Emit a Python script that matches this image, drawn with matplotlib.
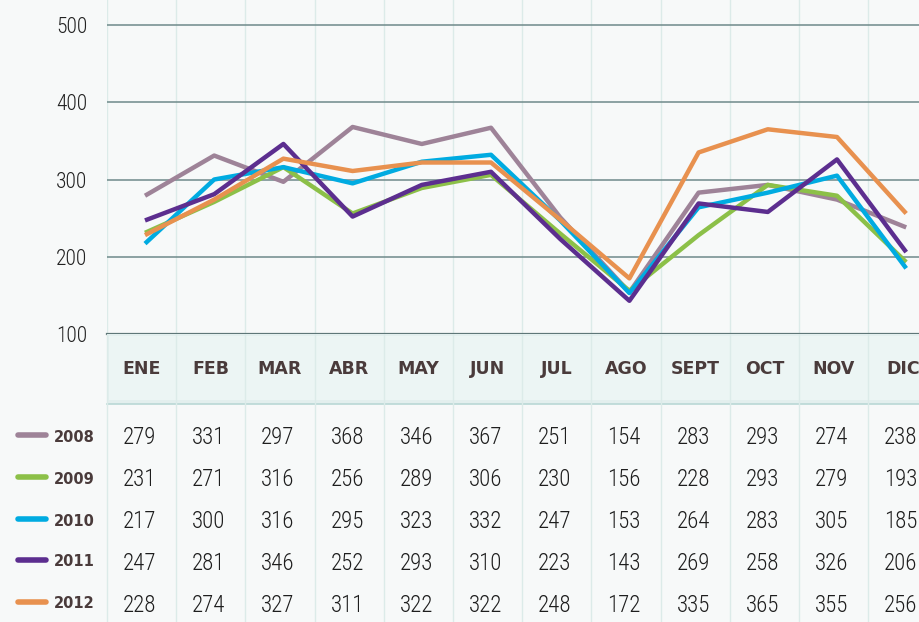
import matplotlib.pyplot as plt
from matplotlib.patches import Rectangle
import numpy as np

months = ['ENE', 'FEB', 'MAR', 'ABR', 'MAY', 'JUN',
          'JUL', 'AGO', 'SEPT', 'OCT', 'NOV', 'DIC']
years = ['2008', '2009', '2010', '2011', '2012']
v2008 = [279, 331, 297, 368, 346, 367, 251, 154, 283, 293, 274, 238]
v2009 = [231, 271, 316, 256, 289, 306, 230, 156, 228, 293, 279, 193]
v2010 = [217, 300, 316, 295, 323, 332, 247, 153, 264, 283, 305, 185]
v2011 = [247, 281, 346, 252, 293, 310, 223, 143, 269, 258, 326, 206]
v2012 = [228, 274, 327, 311, 322, 322, 248, 172, 335, 365, 355, 256]
yticks = [100, 200, 300, 400, 500]
series = [v2008, v2009, v2010, v2011, v2012]
colors = ['#9e8398', '#8cc048', '#00abe1', '#5c2e8f', '#e8914f']

BG = '#f7f9f9'
TXT = '#4a3b3b'
W, H = 920, 622
X0, STEP = 145, 69.2          # px of first month point, px between months
YB = 334                      # px of the 100 line (from top)
x_left = -X0 / STEP
x_right = (W - X0) / STEP
grid_x = np.arange(12) - 0.55

NUMFONT = ['Roboto Condensed', 'DejaVu Sans']

fig = plt.figure(figsize=(W / 100, H / 100), dpi=100, facecolor=BG)

# ---- line chart ----
ax = fig.add_axes([107 / W, (H - YB) / H, (W - 107) / W, YB / H])
ax.set_facecolor(BG)
ax.set_xlim((107 - X0) / STEP, x_right)
ppu = (YB - 25) / 400.0
ax.set_ylim(100, 500 + 25 / ppu)
for gx in grid_x:
    ax.axvline(gx, color='#dcebe9', lw=1, zorder=0)
for gy in yticks[1:]:
    ax.axhline(gy, color='#6f8a8b', lw=1.1, zorder=1)
ax.axhline(100, color='#5f7778', lw=1.6, zorder=1, clip_on=False)
x = np.arange(12)
for vals, c in zip(series, colors):
    ax.plot(x, vals, color=c, lw=3.2, zorder=3, solid_capstyle='butt')
for s in ax.spines.values():
    s.set_visible(False)
ax.set_xticks([])
ax.set_yticks(yticks)
ax.set_yticklabels([str(t) for t in yticks])
for lab in ax.get_yticklabels():
    lab.set_family(NUMFONT)
    lab.set_stretch('condensed')
    lab.set_weight('light')
    lab.set_fontsize(15.5)
    lab.set_color('#222222')
ax.tick_params(axis='y', length=0, pad=14)

# ---- header band + table ----
tb = fig.add_axes([0, 0, 1, (H - YB) / H])
tb.set_facecolor(BG)
tb.set_xlim(x_left, x_right)
tb.set_ylim(H - YB, 0)
tb.axis('off')
bx = (107 - X0) / STEP
tb.add_patch(Rectangle((bx, 0), x_right - bx, 70, facecolor='#e3efee',
                       edgecolor='none', zorder=0))
tb.add_patch(Rectangle((bx + 0.03, 2), x_right - bx, 64, facecolor='#ecf5f4',
                       edgecolor='none', zorder=0))
tb.plot([bx, x_right], [70, 70], color='#b9d8d5', lw=1.2, zorder=1)
for gx in grid_x:
    tb.plot([gx, gx], [0, H - YB], color='#dcebe9', lw=1, zorder=1)
for i, m in enumerate(months):
    tb.text(i - 0.05, 35, m, ha='center', va='center', fontsize=12.5,
            fontweight='bold', color=TXT, zorder=2)

row_y = [103, 145, 187, 228, 270]
for r, (yr, vals, c) in enumerate(zip(years, series, colors)):
    yy = row_y[r]
    tb.plot([(18 - X0) / STEP, (46 - X0) / STEP], [yy - 2, yy - 2], color=c,
            lw=4, solid_capstyle='round', zorder=2)
    tb.text((74 - X0) / STEP, yy, yr, ha='center', va='center', fontsize=10.5,
            fontweight='bold', color=TXT, zorder=2)
    for i, v in enumerate(vals):
        tb.text(i - 0.08, yy + 1, str(v), ha='center', va='center',
                family=NUMFONT, fontstretch='condensed', fontweight='light',
                fontsize=16.5, color='#1e1e1e', zorder=2)

fig.savefig('out.png', dpi=100, facecolor=BG)
